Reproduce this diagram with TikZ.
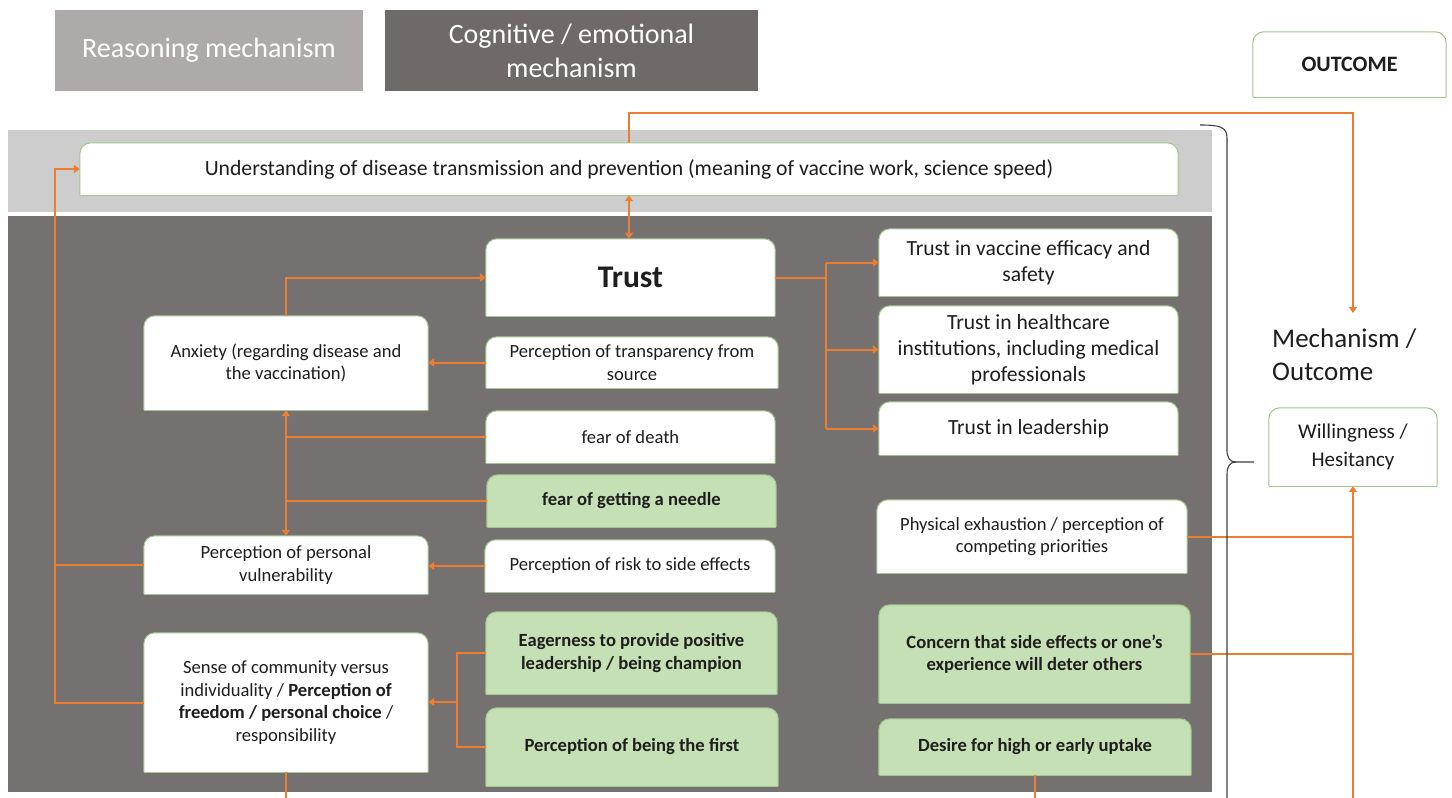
\documentclass[tikz,border=0pt]{standalone}
\usepackage{fontspec}
\setmainfont{Carlito}
\usetikzlibrary{arrows.meta,calc}

\definecolor{orng}{HTML}{ED7D31}
\definecolor{darkband}{HTML}{767171}
\definecolor{lightband}{HTML}{CDCDCD}
\definecolor{legendlight}{HTML}{AEAAAA}
\definecolor{legenddark}{HTML}{6F6A68}
\definecolor{boxgreen}{HTML}{C5E0B4}
\definecolor{boxedge}{HTML}{A3C58F}
\definecolor{ink}{HTML}{1E1E1E}

\pgfdeclarelayer{bands}
\pgfdeclarelayer{shapes}
\pgfsetlayers{bands,shapes,main}

\newcommand\fsm{\fontsize{18.6}{22.5}\selectfont}
\newcommand\fmd{\fontsize{21.6}{26}\selectfont}
\newcommand\fund{\fontsize{21.7}{26}\selectfont}
\newcommand\fleg{\fontsize{28}{34}\selectfont}

\begin{document}
\begin{tikzpicture}[x=1pt,y=-1pt,
  bx/.style={align=center, inner sep=2pt, text=ink, font=\fsm},
  gbx/.style={bx, font=\fsm\bfseries},
  legend/.style={align=center, inner sep=0pt, text=white, font=\fleg},
  conn/.style={draw=orng, line width=2pt},
  >={Triangle[width=8pt,length=6pt]},
  boxline/.style={draw=boxedge, line width=1pt},
  brace/.style={draw=black!75, line width=1.1pt}]

\useasboundingbox (0,0) rectangle (1452,798);

% background bands
\begin{pgfonlayer}{bands}
  \fill[white] (0,0) rectangle (1452,798);
  \fill[lightband] (8,130) rectangle (1212,212);
  \fill[darkband] (8,216) rectangle (1212,792);
\end{pgfonlayer}

% legend
\node[legend, fill=legendlight, minimum width=308pt, minimum height=81pt] (legR) at (209,50.5) {Reasoning mechanism};
\node[legend, fill=legenddark, minimum width=373pt, minimum height=81pt] (legC) at (571.5,50.5) {Cognitive / emotional\\mechanism};

% outcome column
\node[bx, font=\fontsize{22}{26}\selectfont\bfseries, minimum width=193pt, minimum height=65pt] (outc) at (1349.5,64.5) {OUTCOME};
\node[anchor=north west, align=left, inner sep=0pt, text=ink, font=\fontsize{27}{33}\selectfont] (mech) at (1272,329) {Mechanism /\\Outcome};
\coordinate (mtop) at (1353,313);
\node[bx, font=\fontsize{21}{28}\selectfont, minimum width=168pt, minimum height=78pt] (will) at (1353,447) {Willingness /\\Hesitancy};

% reasoning band
\node[bx, font=\fund, minimum width=1098pt, minimum height=52pt] (und) at (629,169) {Understanding of disease transmission and prevention (meaning of vaccine work, science speed)};

% central column
\node[bx, font=\fontsize{31.5}{36}\selectfont\bfseries, minimum width=289pt, minimum height=77pt] (trust) at (630.5,277.5) {Trust};
\node[bx, minimum width=292pt, minimum height=51pt] (transp) at (632,362.5) {Perception of transparency from\\source};
\node[bx, minimum width=289pt, minimum height=52pt] (death) at (630.5,437) {fear of death};
\node[gbx, minimum width=289pt, minimum height=52pt] (needle) at (631.5,501) {fear of getting a needle};
\node[bx, minimum width=290pt, minimum height=52pt] (risk) at (630,566) {Perception of risk to side effects};
\node[gbx, minimum width=291pt, minimum height=82pt] (eager) at (631.5,653) {Eagerness to provide positive\\leadership / being champion};
\node[gbx, minimum width=292pt, minimum height=78pt] (first) at (632,747) {Perception of being the first};

% left column
\node[bx, minimum width=284pt, minimum height=94pt] (anx) at (286,363) {Anxiety (regarding disease and\\the vaccination)};
\node[bx, minimum width=284pt, minimum height=58pt] (vuln) at (286,565) {Perception of personal\\vulnerability};
\node[bx, minimum width=284pt, minimum height=139pt] (sense) at (286,702.5) {Sense of community versus\\individuality / \textbf{Perception of}\\\textbf{freedom / personal choice} /\\responsibility};

% right column
\node[bx, font=\fmd, minimum width=299pt, minimum height=67pt] (tve) at (1028.5,262.5) {Trust in vaccine efficacy and\\safety};
\node[bx, font=\fmd, minimum width=299pt, minimum height=87pt] (thc) at (1028.5,349.5) {Trust in healthcare\\institutions, including medical\\professionals};
\node[bx, font=\fmd, minimum width=299pt, minimum height=53pt] (tl) at (1028.5,428.5) {Trust in leadership};
\node[bx, minimum width=310pt, minimum height=73pt] (phys) at (1032,536.5) {Physical exhaustion / perception of\\competing priorities};
\node[gbx, minimum width=311pt, minimum height=98pt] (concern) at (1034.5,654) {Concern that side effects or one’s\\experience will deter others};
\node[gbx, minimum width=312pt, minimum height=56pt] (desire) at (1035,747) {Desire for high or early uptake};

% box outlines: rounded top corners, square bottom corners
\begin{pgfonlayer}{shapes}
  \foreach \n/\c in {outc/white,will/white,und/white,trust/white,transp/white,
      death/white,risk/white,anx/white,vuln/white,sense/white,tve/white,thc/white,
      tl/white,phys/white,needle/boxgreen,eager/boxgreen,first/boxgreen,
      concern/boxgreen,desire/boxgreen}{
    \draw[boxline, fill=\c, rounded corners=11pt]
      (\n.south west) -- (\n.north west) -- (\n.north east) -- (\n.south east);
    \draw[boxline] (\n.south west) -- (\n.south east);
  }
\end{pgfonlayer}

% junction points
\coordinate (lx) at (55,0);
\coordinate (ej) at (457,702);
\coordinate (tj) at (826,279);
\coordinate (bot) at (0,799);

% connectors
\draw[conn,<->] (und.south) -- (und.south |- trust.north);
\draw[conn,->] (und.north) -- ++(0,-30) -| (mtop);
\draw[conn,->] (anx.north) |- (trust.west);
\draw[conn,->] (transp.west) -- (transp.west -| anx.east);
\draw[conn,<->] (anx.south) -- (vuln.north);
\draw[conn] (death.west) -- (death.west -| anx.south);
\draw[conn] (needle.west) -- (needle.west -| anx.south);
\draw[conn,->] (risk.west) -- (risk.west -| vuln.east);
\draw[conn,->] (sense.west) -- (sense.west -| lx) |- (und.west);
\draw[conn] (vuln.west) -- (vuln.west -| lx);
\draw[conn] (eager.west) -- (eager.west -| ej) -- (first.west -| ej) -- (first.west);
\draw[conn,->] (ej) -- (ej -| sense.east);
\draw[conn] (sense.south) -- (sense.south |- bot);
\draw[conn] (trust.east) -- (trust.east -| tj);
\draw[conn] (tve.west -| tj) -- (tl.west -| tj);
\foreach \t in {tve,thc,tl}
  \draw[conn,->] (\t.west -| tj) -- (\t.west);
\draw[conn] (phys.east) -- (phys.east -| will.south);
\draw[conn] (concern.east) -- (concern.east -| will.south);
\draw[conn,->] (will.south |- bot) -- (will.south);
\draw[conn] (desire.south) -- (desire.south |- bot);

% brace grouping the mechanisms
\draw[brace] (1200,125) .. controls (1220,125) and (1227,127) .. (1227,138) -- (1227,450)
  .. controls (1227,458) and (1230,462) .. (1236,462) -- (1254,462);
\draw[brace] (1236,462) .. controls (1230,462) and (1227,466) .. (1227,474) -- (1227,800);
\end{tikzpicture}
\end{document}
